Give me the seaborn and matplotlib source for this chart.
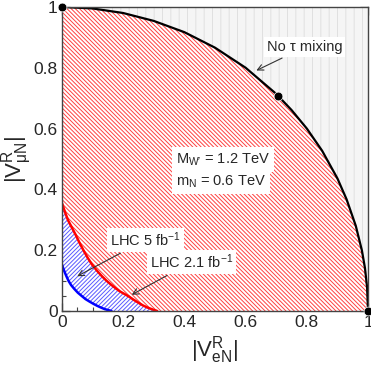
import numpy as np
import matplotlib
matplotlib.use("Agg")
import matplotlib.pyplot as plt
import seaborn as sns

# curves: (|V_eN|, |V_muN|)
circle_x = [0, 0.1, 0.2, 0.3, 0.4, 0.5, 0.6, 0.7, 0.75, 0.8, 0.85, 0.9, 0.93, 0.96, 0.98, 0.99, 0.997, 1.0]
circle_y = [1, 0.995, 0.98, 0.954, 0.917, 0.866, 0.8, 0.714, 0.661, 0.6, 0.527, 0.436, 0.367, 0.28, 0.199, 0.141, 0.077, 0]

lhc21_x = [0, 0.01, 0.02, 0.032, 0.044, 0.057, 0.07, 0.084, 0.098, 0.114, 0.13, 0.145, 0.16, 0.175,
           0.19, 0.204, 0.218, 0.234, 0.25, 0.265, 0.28, 0.296, 0.311]
lhc21_y = [0.355, 0.325, 0.298, 0.275, 0.252, 0.225, 0.2, 0.175, 0.153, 0.133, 0.115, 0.1, 0.087, 0.075,
           0.064, 0.056, 0.048, 0.037, 0.027, 0.018, 0.011, 0.005, 0]

lhc5_x = [0, 0.005, 0.01, 0.016, 0.022, 0.03, 0.04, 0.052, 0.065, 0.077, 0.09, 0.102, 0.115, 0.128,
          0.14, 0.151, 0.162]
lhc5_y = [0.153, 0.138, 0.125, 0.111, 0.098, 0.085, 0.073, 0.06, 0.049, 0.039, 0.031, 0.024, 0.017, 0.011,
          0.006, 0.003, 0]

dots_x = [0, 0.707, 1]
dots_y = [1, 0.707, 0]

ticks = [0, 0.2, 0.4, 0.6, 0.8, 1]
tick_labels = ["0", "0.2", "0.4", "0.6", "0.8", "1"]

sns.set_style("ticks")
plt.rcParams["font.family"] = ["Liberation Sans", "DejaVu Sans"]
plt.rcParams["mathtext.default"] = "regular"
plt.rcParams["hatch.linewidth"] = 0.7

fig = plt.figure(figsize=(3.71, 3.65), dpi=100)
ax = fig.add_axes([0.167, 0.148, 0.825, 0.833])

# gray region outside the circle
ax.fill(circle_x + [1, 1, 0], circle_y + [0, 1, 1], facecolor="#f5f5f5",
        edgecolor="#e0e0e0", hatch="||", linewidth=0, zorder=1)
# red hatched region between the LHC 2.1 curve and the circle
ax.fill(lhc21_x + circle_x[::-1], lhc21_y + circle_y[::-1], facecolor="white",
        edgecolor="#ff4040", hatch="\\" * 8, linewidth=0, zorder=1)
# blue hatched region between the two LHC curves
ax.fill(lhc5_x + lhc21_x[::-1], lhc5_y + lhc21_y[::-1], facecolor="white",
        edgecolor="#5a5aff", hatch="/" * 8, linewidth=0, zorder=1)

sns.lineplot(x=circle_x, y=circle_y, sort=False, color="black", linewidth=1.6, ax=ax, zorder=3)
sns.lineplot(x=lhc21_x, y=lhc21_y, sort=False, color="red", linewidth=1.8, ax=ax, zorder=3)
sns.lineplot(x=lhc5_x, y=lhc5_y, sort=False, color="blue", linewidth=1.8, ax=ax, zorder=3)
sns.scatterplot(x=dots_x, y=dots_y, color="black", s=40, ax=ax, zorder=5, clip_on=False)

box = dict(facecolor="white", edgecolor="none", pad=2)
arrow = dict(arrowstyle="->", color="#333333", lw=0.8)
ax.annotate("No τ mixing", xy=(0.627, 0.787), xytext=(0.67, 0.868), fontsize=10.5,
            va="center", ha="left", bbox=box, arrowprops=arrow, zorder=6)
ax.text(0.373, 0.497, "M$_{W\u2032}$ = 1.2 TeV", fontsize=10.5, va="center", ha="left",
        bbox=dict(facecolor="white", edgecolor="none", pad=3), zorder=6)
ax.text(0.373, 0.424, "m$_N$ = 0.6 TeV", fontsize=10.5, va="center", ha="left",
        bbox=dict(facecolor="white", edgecolor="none", pad=3), zorder=6)
ax.annotate("LHC 5 fb$^{-1}$", xy=(0.042, 0.11), xytext=(0.157, 0.234), fontsize=10.5,
            va="center", ha="left", bbox=box, arrowprops=arrow, zorder=6)
ax.annotate("LHC 2.1 fb$^{-1}$", xy=(0.22, 0.049), xytext=(0.288, 0.161), fontsize=10.5,
            va="center", ha="left", bbox=box, arrowprops=arrow, zorder=6)

ax.set_xlim(0, 1)
ax.set_ylim(0, 1)
ax.set_xticks(ticks)
ax.set_xticklabels(tick_labels)
ax.set_yticks(ticks)
ax.set_yticklabels(tick_labels)
ax.set_xticks(np.arange(0, 1.001, 0.05), minor=True)
ax.set_yticks(np.arange(0, 1.001, 0.05), minor=True)
ax.tick_params(which="both", direction="in", top=True, right=True, labelsize=12.5,
               color="#444444")
ax.tick_params(which="major", length=6, width=0.9, pad=3)
ax.tick_params(which="minor", length=3, width=0.8)
for s in ax.spines.values():
    s.set_color("#444444")
    s.set_linewidth(1.0)
    s.set_zorder(4)

ax.set_xlabel("|V$^R_{eN}$|", fontsize=16, labelpad=3)
ax.set_ylabel("|V$^R_{\\mu N}$|", fontsize=16, labelpad=0)

fig.savefig("out.png", dpi=100)
